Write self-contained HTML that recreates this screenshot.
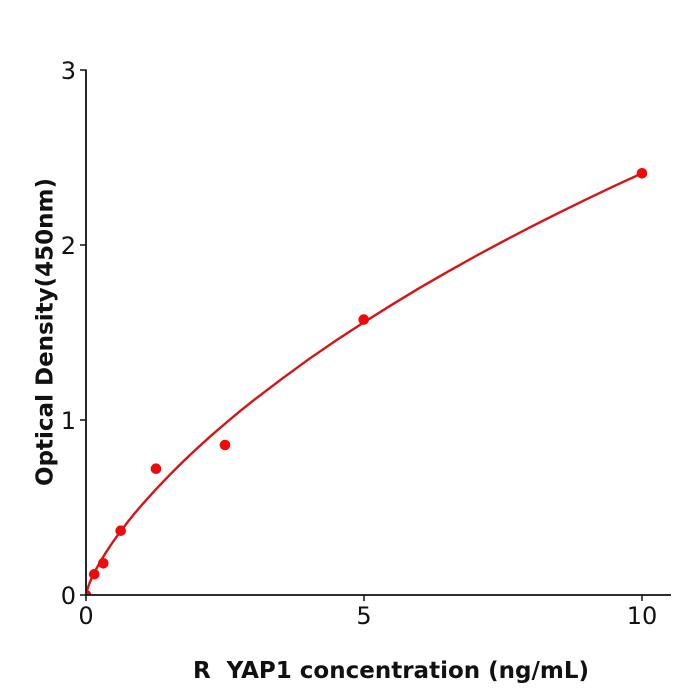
<!DOCTYPE html>
<html>
<head>
<meta charset="utf-8">
<style>
html,body{margin:0;padding:0;background:#fff;}
svg{display:block;}
text{font-family:"DejaVu Sans","Liberation Sans",sans-serif;fill:#111;}
</style>
</head>
<body>
<svg width="700" height="700" viewBox="0 0 700 700" xmlns="http://www.w3.org/2000/svg">
<defs>
<clipPath id="ax"><rect x="86" y="40" width="600" height="555"/></clipPath>
</defs>
<rect width="700" height="700" fill="#fff"/>
<!-- fitted curve -->
<g clip-path="url(#ax)">
<polyline fill="none" stroke="#d71414" stroke-width="2.4" stroke-linejoin="round"
points="86,595 86.56,592.8 87.11,590.02 87.95,587.5 88.78,585.13 90.17,581.6 91.56,578.46 94.34,572.6 97.12,567.32 101.29,560.0 105.46,553.19 109.63,546.8 113.8,540.7 120.75,531.1 127.7,522.06 134.65,513.4 141.6,505.22 155.5,489.8 169.4,475.17 183.3,461.4 197.2,448.28 211.1,435.7 225,423.73 238.9,412.1 252.8,400.94 280.6,379.8 308.4,359.44 336.2,340.4 364,322.2 391.8,304.8 419.6,287.94 447.4,271.9 475.2,256.36 503,241.4 530.8,226.9 558.6,212.9 586.4,199.3 614.2,186.1 642,173.25"/>
<circle cx="86" cy="595" r="5.3" fill="#ee0a0a"/>
</g>
<!-- axes -->
<line x1="86" y1="595" x2="671" y2="595" stroke="#111" stroke-width="1.8"/>
<line x1="86" y1="595.9" x2="86" y2="69.5" stroke="#111" stroke-width="1.8"/>
<!-- ticks -->
<g stroke="#111" stroke-width="1.5">
<line x1="86" y1="595" x2="86" y2="601"/>
<line x1="364" y1="595" x2="364" y2="601"/>
<line x1="642" y1="595" x2="642" y2="601"/>
<line x1="86" y1="595" x2="80" y2="595"/>
<line x1="86" y1="420" x2="80" y2="420"/>
<line x1="86" y1="245" x2="80" y2="245"/>
<line x1="86" y1="70" x2="80" y2="70"/>
</g>
<g font-size="24" text-anchor="middle">
<text x="86" y="624">0</text>
<text x="364" y="624">5</text>
<text x="642" y="624">10</text>
</g>
<g font-size="24" text-anchor="end">
<text x="76" y="604">0</text>
<text x="76" y="429">1</text>
<text x="76" y="254">2</text>
<text x="76" y="79">3</text>
</g>
<!-- axis labels -->
<text x="391" y="678" font-size="23" font-weight="bold" text-anchor="middle">R&#160; YAP1 concentration (ng/mL)</text>
<text transform="translate(52.5,332) rotate(-90)" font-size="23" font-weight="bold" text-anchor="middle">Optical Density(450nm)</text>
<!-- data points -->
<g fill="#ee0a0a">
<circle cx="94.3" cy="574.3" r="5.3"/>
<circle cx="103.3" cy="563.3" r="5.3"/>
<circle cx="120.7" cy="530.7" r="5.3"/>
<circle cx="156" cy="468.7" r="5.3"/>
<circle cx="225" cy="445" r="5.3"/>
<circle cx="363.7" cy="319.6" r="5.3"/>
<circle cx="642" cy="173.3" r="5.3"/>
</g>
</svg>
</body>
</html>
